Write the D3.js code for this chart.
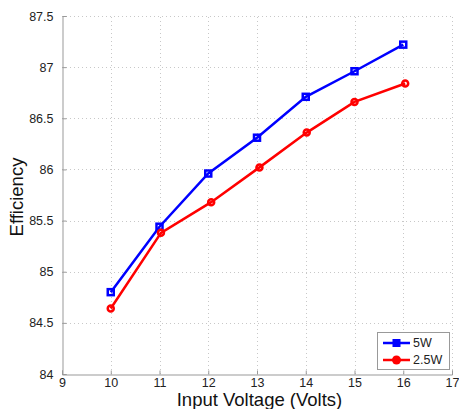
<!DOCTYPE html>
<html>
<head>
<meta charset="utf-8">
<script src="https://cdn.jsdelivr.net/npm/d3@7"></script>
<style>
  body { margin: 0; background: #fff; }
  svg { display: block; font-family: "Liberation Sans", Arial, sans-serif; }
</style>
</head>
<body>
<div id="chart"></div>
<script>
// Data
const voltage5W = [10, 11, 12, 13, 14, 15, 16];
const eff5W = [84.8, 85.44, 85.96, 86.31, 86.71, 86.96, 87.22];
const voltage2W = [10, 11.03, 12.06, 13.05, 14.02, 15.0, 16.04];
const eff2W = [84.64, 85.38, 85.68, 86.02, 86.36, 86.66, 86.84];
const xTicks = [9, 10, 11, 12, 13, 14, 15, 16, 17];
const yTicks = [84, 84.5, 85, 85.5, 86, 86.5, 87, 87.5];
const seriesNames = ['5W', '2.5W'];

const width = 459, height = 409;
const margin = { left: 62, right: 7, top: 16, bottom: 35 };

const svg = d3.select('#chart').append('svg')
  .attr('width', width)
  .attr('height', height);

const x = d3.scaleLinear().domain([9, 17]).range([margin.left, width - margin.right]);
const y = d3.scaleLinear().domain([84, 87.5]).range([height - margin.bottom, margin.top]);

// Grid
const grid = svg.append('g')
  .attr('stroke', '#c8c8c8')
  .attr('stroke-width', 1)
  .attr('stroke-dasharray', '1,3');
grid.selectAll('.vg').data(xTicks.slice(1)).enter().append('line')
  .attr('x1', d => Math.round(x(d)) + 0.5).attr('x2', d => Math.round(x(d)) + 0.5)
  .attr('y1', y(84)).attr('y2', y(87.5));
grid.selectAll('.hg').data(yTicks.slice(1)).enter().append('line')
  .attr('y1', d => Math.round(y(d)) + 0.5).attr('y2', d => Math.round(y(d)) + 0.5)
  .attr('x1', x(9)).attr('x2', x(17));

// Axes (ticks inward)
const xAxis = svg.append('g')
  .attr('transform', `translate(0,${Math.round(y(84)) + 0.5})`)
  .call(d3.axisBottom(x).tickValues(xTicks).tickSize(-4).tickPadding(4).tickFormat(d3.format('d')));
const yAxis = svg.append('g')
  .attr('transform', `translate(${Math.round(x(9)) + 0.5},0)`)
  .call(d3.axisLeft(y).tickValues(yTicks).tickSize(-4).tickPadding(9).tickFormat(d => String(d)));

[xAxis, yAxis].forEach(a => {
  a.select('.domain').attr('stroke', '#999');
  a.selectAll('.tick line').attr('stroke', '#999');
  a.selectAll('.tick text').attr('fill', '#222').style('font-size', '12.5px')
    .style('font-family', '"Liberation Sans", Arial, sans-serif');
});
xAxis.selectAll('.tick text').attr('dy', '0.71em');

// Axis labels
svg.append('text')
  .attr('x', 259.5)
  .attr('y', 406)
  .attr('text-anchor', 'middle')
  .style('font-size', '18.5px')
  .attr('fill', '#111')
  .text('Input Voltage (Volts)');

svg.append('text')
  .attr('transform', `translate(23,${(y(84) + y(87.5)) / 2 + 2}) rotate(-90)`)
  .attr('text-anchor', 'middle')
  .style('font-size', '18.5px')
  .attr('fill', '#111')
  .text('Efficiency');

// Lines
const line = d3.line().x(d => x(d[0])).y(d => y(d[1]));
const blueData = voltage5W.map((v, i) => [v, eff5W[i]]);
const redData = voltage2W.map((v, i) => [v, eff2W[i]]);

svg.append('path').datum(blueData)
  .attr('d', line).attr('fill', 'none').attr('stroke', '#0000ff').attr('stroke-width', 2.5);
svg.append('g').selectAll('rect').data(blueData).enter().append('rect')
  .attr('x', d => x(d[0]) - 3).attr('y', d => y(d[1]) - 3)
  .attr('width', 6).attr('height', 6)
  .attr('fill', 'none').attr('stroke', '#0000ff').attr('stroke-width', 2.5);

svg.append('path').datum(redData)
  .attr('d', line).attr('fill', 'none').attr('stroke', '#ff0000').attr('stroke-width', 2.5);
svg.append('g').selectAll('circle').data(redData).enter().append('circle')
  .attr('cx', d => x(d[0])).attr('cy', d => y(d[1])).attr('r', 3)
  .attr('fill', 'none').attr('stroke', '#ff0000').attr('stroke-width', 2.5);

// Legend
const legend = svg.append('g');
legend.append('rect')
  .attr('x', 377.5).attr('y', 332.5).attr('width', 72).attr('height', 37)
  .attr('fill', '#fff').attr('stroke', '#999');
const colors = ['#0000ff', '#ff0000'];
seriesNames.forEach((name, i) => {
  const ly = 343 + i * 17;
  legend.append('line')
    .attr('x1', 383).attr('x2', 410).attr('y1', ly).attr('y2', ly)
    .attr('stroke', colors[i]).attr('stroke-width', 2.5);
  if (i === 0) {
    legend.append('rect').attr('x', 392.5).attr('y', ly - 4).attr('width', 8).attr('height', 8)
      .attr('fill', colors[i]);
  } else {
    legend.append('circle').attr('cx', 396.5).attr('cy', ly).attr('r', 4.5)
      .attr('fill', colors[i]);
  }
  legend.append('text')
    .attr('x', 413).attr('y', ly).attr('dy', '0.35em')
    .style('font-size', '12.5px').attr('fill', '#222')
    .text(name);
});
</script>
</body>
</html>
